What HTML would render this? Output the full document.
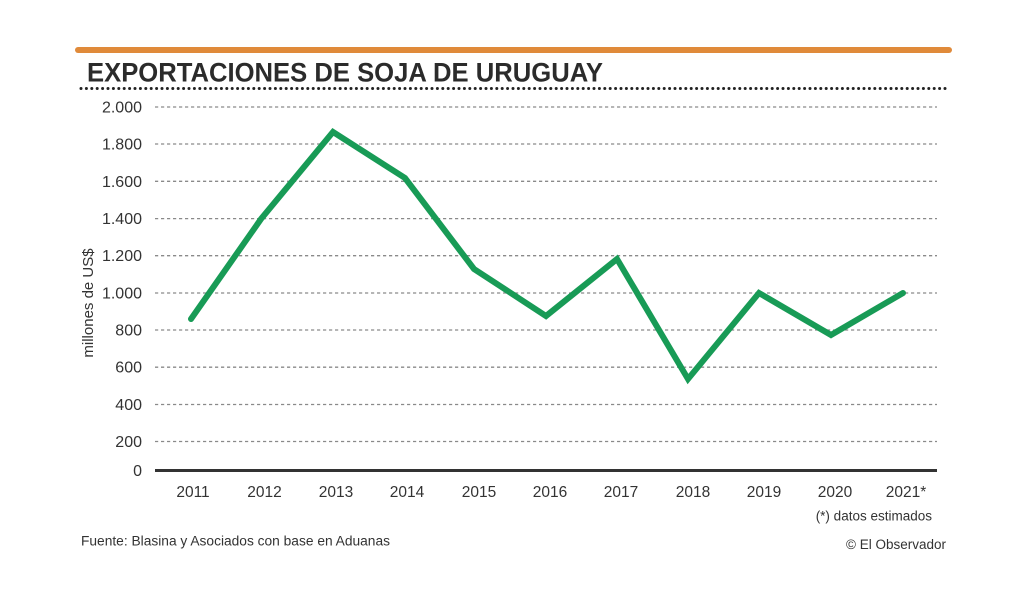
<!DOCTYPE html>
<html>
<head>
<meta charset="utf-8">
<style>
  html,body{margin:0;padding:0;background:#fff;}
  svg{display:block;}
  text{font-family:"Liberation Sans",sans-serif;fill:#333;}
</style>
</head>
<body>
<svg width="1024" height="597" viewBox="0 0 1024 597" xmlns="http://www.w3.org/2000/svg">
  <rect width="1024" height="597" fill="#fff"/>
  <!-- orange bar -->
  <line x1="78" y1="50" x2="949" y2="50" stroke="#e08a3a" stroke-width="6" stroke-linecap="round"/>
  <!-- title -->
  <text x="87" y="81.5" font-size="27" font-weight="bold" fill="#2b2b2b" style="fill:#2b2b2b" textLength="516" lengthAdjust="spacingAndGlyphs">EXPORTACIONES DE SOJA DE URUGUAY</text>
  <!-- dotted title line -->
  <line x1="81" y1="88.5" x2="946" y2="88.5" stroke="#222" stroke-width="3" stroke-dasharray="0 5.4" stroke-linecap="round"/>

  <!-- gridlines -->
  <g stroke="#8a8a8a" stroke-width="1.3" stroke-dasharray="3.2 2.8">
    <line x1="155" y1="107" x2="937" y2="107"/>
    <line x1="155" y1="144" x2="937" y2="144"/>
    <line x1="155" y1="181.3" x2="937" y2="181.3"/>
    <line x1="155" y1="218.6" x2="937" y2="218.6"/>
    <line x1="155" y1="255.7" x2="937" y2="255.7"/>
    <line x1="155" y1="293" x2="937" y2="293"/>
    <line x1="155" y1="330" x2="937" y2="330"/>
    <line x1="155" y1="367.2" x2="937" y2="367.2"/>
    <line x1="155" y1="404.5" x2="937" y2="404.5"/>
    <line x1="155" y1="441.5" x2="937" y2="441.5"/>
  </g>
  <!-- axis -->
  <line x1="155" y1="470.5" x2="937" y2="470.5" stroke="#333" stroke-width="3"/>

  <!-- y labels -->
  <g font-size="16" text-anchor="end">
    <text x="142" y="112.5">2.000</text>
    <text x="142" y="149.5">1.800</text>
    <text x="142" y="186.8">1.600</text>
    <text x="142" y="224">1.400</text>
    <text x="142" y="261.2">1.200</text>
    <text x="142" y="298.5">1.000</text>
    <text x="142" y="335.5">800</text>
    <text x="142" y="372.7">600</text>
    <text x="142" y="410">400</text>
    <text x="142" y="447">200</text>
    <text x="142" y="476">0</text>
  </g>
  <!-- y axis title -->
  <text transform="translate(93,303) rotate(-90)" font-size="15" text-anchor="middle">millones de US$</text>

  <!-- x labels -->
  <g font-size="15.5" text-anchor="middle">
    <text x="193" y="497">2011</text>
    <text x="264.5" y="497">2012</text>
    <text x="336" y="497">2013</text>
    <text x="407" y="497">2014</text>
    <text x="479" y="497">2015</text>
    <text x="550" y="497">2016</text>
    <text x="621" y="497">2017</text>
    <text x="693" y="497">2018</text>
    <text x="764" y="497">2019</text>
    <text x="835" y="497">2020</text>
    <text x="906" y="497">2021*</text>
  </g>

  <!-- series -->
  <polyline fill="none" stroke="#189b56" stroke-width="6" stroke-linejoin="miter" stroke-linecap="round"
    points="191,319 261,219 333,132 405,178 474,269 546,316 617,259 688,379 759,293 831,335 903,293"/>

  <!-- notes -->
  <text x="932" y="520.5" font-size="13.5" text-anchor="end">(*) datos estimados</text>
  <text x="81" y="545.5" font-size="13.5" textLength="309" lengthAdjust="spacingAndGlyphs">Fuente: Blasina y Asociados con base en Aduanas</text>
  <text x="946" y="549" font-size="13.5" text-anchor="end">© El Observador</text>
</svg>
</body>
</html>
